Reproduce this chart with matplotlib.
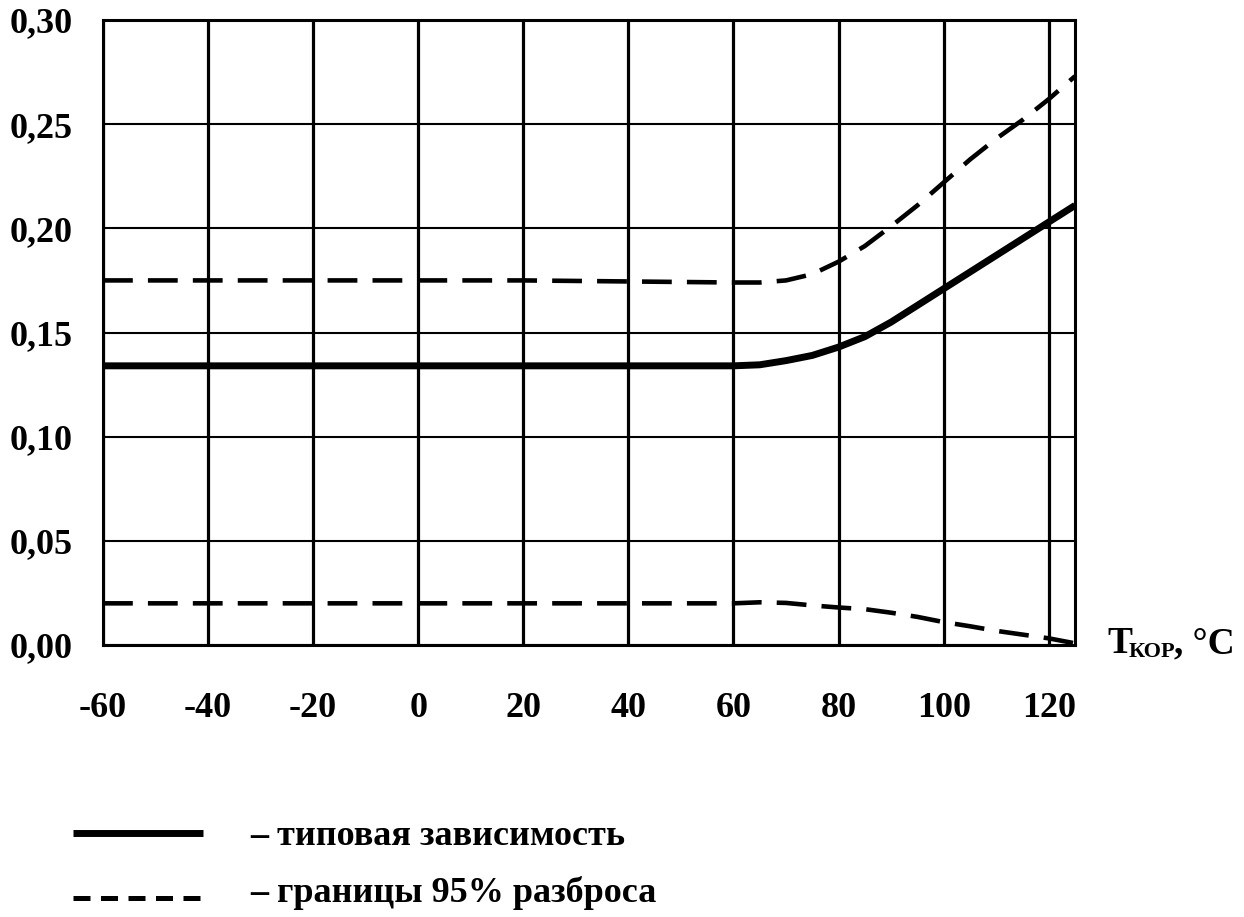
import matplotlib
matplotlib.use("Agg")
import matplotlib.pyplot as plt
from matplotlib.lines import Line2D

plt.rcParams['font.family'] = ['Liberation Serif', 'DejaVu Serif']

# ---- data ----
temps = [-60, -40, -20, 0, 20, 40, 60, 65, 70, 75, 80, 85, 90, 95, 100, 105, 110, 115, 120, 125]
typical = [0.134, 0.134, 0.134, 0.134, 0.134, 0.134, 0.134, 0.1345, 0.1365, 0.139, 0.143,
           0.148, 0.155, 0.163, 0.171, 0.179, 0.187, 0.195, 0.203, 0.211]
upper95 = [0.175, 0.175, 0.175, 0.175, 0.175, 0.1745, 0.174, 0.174, 0.175, 0.178, 0.184,
           0.1915, 0.2010, 0.211, 0.222, 0.233, 0.243, 0.252, 0.262, 0.273]
lower95 = [0.020, 0.020, 0.020, 0.020, 0.020, 0.020, 0.020, 0.0205, 0.0202, 0.019, 0.018,
           0.0172, 0.0155, 0.0135, 0.011, 0.009, 0.0068, 0.005, 0.0032, 0.0008]

x_ticks = [-60, -40, -20, 0, 20, 40, 60, 80, 100, 120]
x_labels = ['-60', '-40', '-20', '0', '20', '40', '60', '80', '100', '120']
y_ticks = [0.00, 0.05, 0.10, 0.15, 0.20, 0.25, 0.30]
y_labels = ['0,00', '0,05', '0,10', '0,15', '0,20', '0,25', '0,30']

legend_labels = ['– типовая зависимость', '– границы 95% разброса']
x_title_main = 'T'
x_title_sub = 'КОР'
x_title_unit = ', °C'

# ---- figure ----
W, H = 1244, 917
fig = plt.figure(figsize=(W / 100, H / 100), dpi=100)
ax = fig.add_axes([103 / W, (H - 645) / H, (1075 - 103) / W, 625 / H])

ax.set_xlim(-60, 125)
ax.set_ylim(0, 0.30)

ax.set_xticks(x_ticks)
ax.set_xticklabels(x_labels)
ax.set_yticks(y_ticks)
ax.set_yticklabels(y_labels)
ax.tick_params(axis='both', length=0, labelsize=26)
ax.tick_params(axis='x', pad=34)
ax.tick_params(axis='y', pad=22)
for lab in ax.get_xticklabels() + ax.get_yticklabels():
    lab.set_fontweight('bold')

ax.xaxis.grid(True, color='black', linewidth=2.3)
ax.yaxis.grid(True, color='black', linewidth=1.5)
ax.set_axisbelow(True)
for side, sp in ax.spines.items():
    sp.set_color('black')
    sp.set_linewidth(2.2)

ax.plot(temps, typical, color='black', linewidth=5, solid_capstyle='butt', zorder=3)
ax.plot(temps, upper95, color='black', linewidth=3.3, dashes=(6.5, 3.3),
        dash_capstyle='butt', zorder=3)
ax.plot(temps, lower95, color='black', linewidth=3.3, dashes=(6.5, 3.3),
        dash_capstyle='butt', zorder=3)

# axis title at the right end of the x axis
fig.text(1107 / W, (H - 653) / H, x_title_main, fontsize=27, fontweight='bold', va='baseline')
fig.text(1129 / W, (H - 657) / H, x_title_sub, fontsize=16, fontweight='bold', va='baseline')
fig.text(1174 / W, (H - 653) / H, x_title_unit, fontsize=27, fontweight='bold', va='baseline')

# legend below the chart
fig.add_artist(Line2D([73 / W, 203 / W], [(H - 833) / H] * 2, transform=fig.transFigure,
                      color='black', linewidth=5, solid_capstyle='butt'))
fig.add_artist(Line2D([73 / W, 203 / W], [(H - 898) / H] * 2, transform=fig.transFigure,
                      color='black', linewidth=3.6, dashes=(3.4, 2.1), dash_capstyle='butt'))
fig.text(250 / W, (H - 845) / H, legend_labels[0], fontsize=26, fontweight='bold', va='baseline')
fig.text(250 / W, (H - 902) / H, legend_labels[1], fontsize=26, fontweight='bold', va='baseline')

fig.savefig('out.png', dpi=100, facecolor='white')
